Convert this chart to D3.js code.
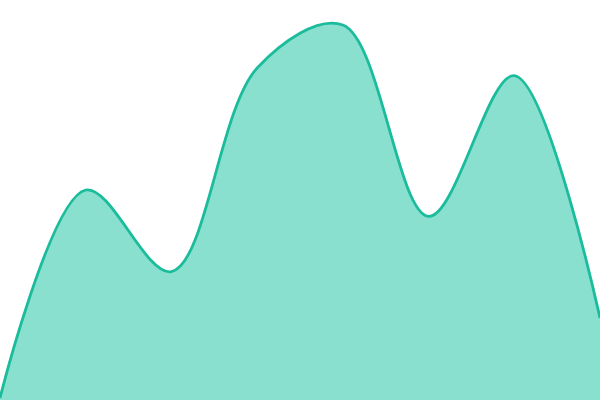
<!DOCTYPE html>
<html>
<head>
<meta charset="utf-8">
<script src="https://cdn.jsdelivr.net/npm/d3@7"></script>
<style>
  body { margin: 0; background: #fff; }
  svg { display: block; }
</style>
</head>
<body>
<svg id="mainsvg" width="600" height="400"></svg>
<script>
// 8 evenly spaced points (0-100 scale)
const categories = [0, 1, 2, 3, 4, 5, 6, 7]
const values = [0.5, 52.5, 32.1, 83, 93.75, 45.9, 81.1, 20.5]

const data = categories.map((c, i) => ({ c: c, value: values[i] }))

const svg = d3.select('#mainsvg')
const width = +svg.attr("width")
const height = +svg.attr("height")

const xScale = d3.scalePoint()
  .domain(categories)
  .range([0, width])

const yScale = d3.scaleLinear()
  .domain([0, 100])
  .range([height, 0])

const area = d3.area()
  .x(d => xScale(d.c))
  .y0(yScale(0))
  .y1(d => yScale(d.value))
  .curve(d3.curveCatmullRom)

const line = d3.line()
  .x(d => xScale(d.c))
  .y(d => yScale(d.value))
  .curve(d3.curveCatmullRom)

// 面积
svg.append("path")
  .datum(data)
  .attr("d", area)
  .attr("fill", "#89e0ce")

// 轮廓线
svg.append("path")
  .datum(data)
  .attr("d", line)
  .attr("fill", "none")
  .attr("stroke", "#1abc9c")
  .attr("stroke-width", 2.8)
</script>
</body>
</html>
